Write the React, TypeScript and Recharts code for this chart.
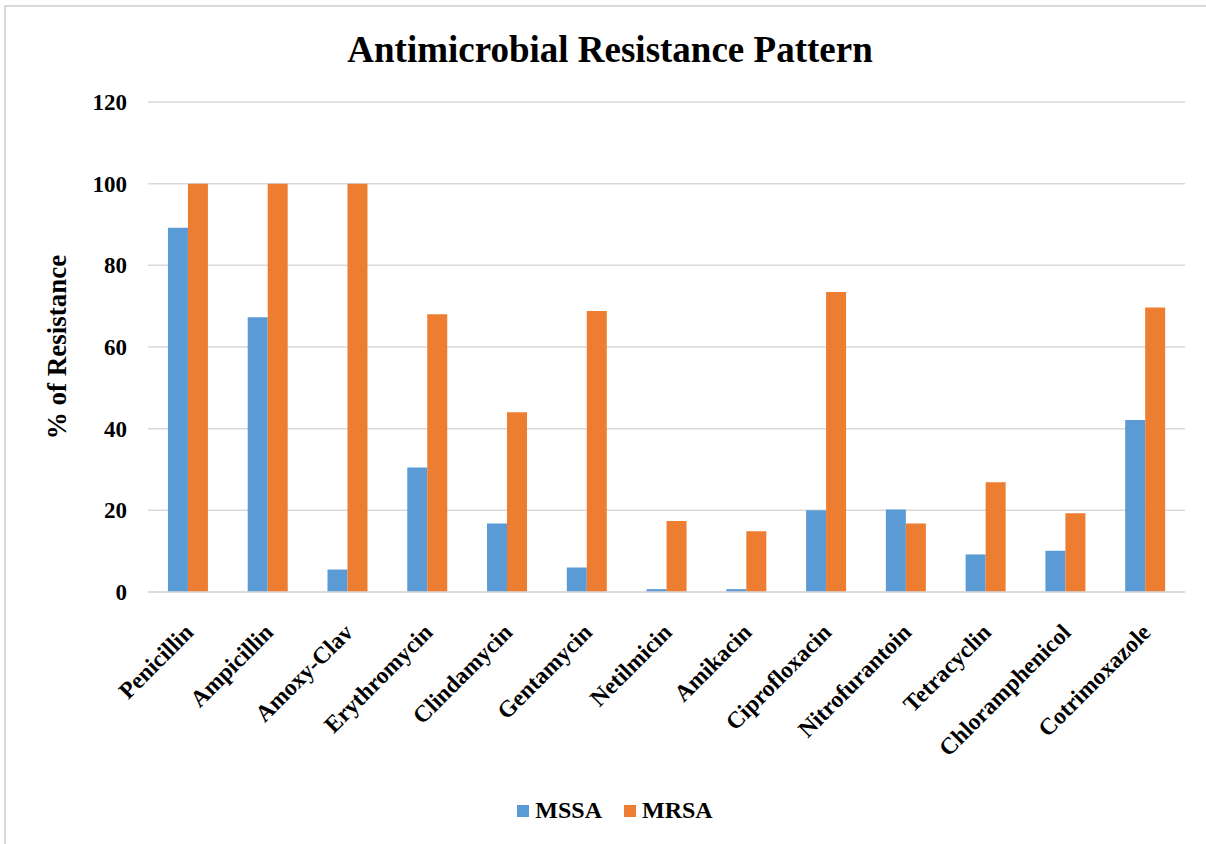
import { BarChart, Bar, XAxis, YAxis, CartesianGrid, Legend } from "recharts";

const drugs = [
  "Penicillin", "Ampicillin", "Amoxy-Clav", "Erythromycin", "Clindamycin", "Gentamycin",
  "Netilmicin", "Amikacin", "Ciprofloxacin", "Nitrofurantoin", "Tetracyclin", "Chloramphenicol",
  "Cotrimoxazole",
];
const mssa = [89.2, 67.3, 5.5, 30.5, 16.8, 6, 0.7, 0.7, 20, 20.2, 9.2, 10.1, 42.1];
const mrsa = [100, 100, 100, 68, 44, 68.8, 17.4, 14.9, 73.5, 16.8, 26.9, 19.3, 69.7];
const yTicks = [0, 20, 40, 60, 80, 100, 120];

const data = drugs.map((name, i) => ({ name, MSSA: mssa[i], MRSA: mrsa[i] }));

const BLUE = "#5b9bd5";
const ORANGE = "#ed7d31";
const FONT = "'Liberation Serif', 'Times New Roman', serif";

const XTick = (props: any) => {
  const { x, y, payload } = props;
  return (
    <g transform={`translate(${x + 1},${y + 28})`}>
      <text
        x={0}
        y={0}
        dy="0.35em"
        textAnchor="end"
        transform="rotate(-45)"
        fill="#000"
        style={{ fontFamily: FONT, fontWeight: 700, fontSize: 23.5 }}
      >
        {payload.value}
      </text>
    </g>
  );
};

const LegendContent = () => (
  <div style={{ display: "flex", justifyContent: "center", gap: 22, fontFamily: FONT, fontWeight: 700, fontSize: 24 }}>
    {[["MSSA", BLUE], ["MRSA", ORANGE]].map(([n, c]) => (
      <div key={n} style={{ display: "flex", alignItems: "center", gap: 6 }}>
        <div style={{ width: 12, height: 12, backgroundColor: c }} />
        {n}
      </div>
    ))}
  </div>
);

export default function App() {
  return (
    <div style={{ position: "absolute", left: 0, top: 0, width: 1206, height: 844, background: "#fff" }}>
      <div style={{ position: "absolute", left: 4, top: 5, width: 1202, height: 839, borderLeft: "2px solid #d9d9d9", borderTop: "2px solid #d9d9d9" }} />
      <div style={{ position: "absolute", left: 0, top: 31, width: 1220, textAlign: "center", fontFamily: FONT, fontWeight: 700, fontSize: 37, lineHeight: 1 }}>
        Antimicrobial Resistance Pattern
      </div>
      <BarChart
        width={1206}
        height={844}
        data={data}
        margin={{ top: 102, right: 21, bottom: 52, left: 0 }}
        barCategoryGap="25%"
        barGap={0}
      >
        <CartesianGrid vertical={false} stroke="#d9d9d9" strokeWidth={1.5} />
        <XAxis
          dataKey="name"
          interval={0}
          height={200}
          tickLine={false}
          axisLine={{ stroke: "#d9d9d9", strokeWidth: 1.5 }}
          tick={<XTick />}
        />
        <YAxis
          width={148}
          domain={[0, 120]}
          ticks={yTicks}
          tickLine={false}
          axisLine={false}
          tickMargin={15}
          tick={{ fill: "#000", fontFamily: FONT, fontWeight: 700, fontSize: 23 }}
          label={{
            value: "% of Resistance",
            angle: -90,
            position: "center",
            dx: -18,
            style: { fill: "#000", fontFamily: FONT, fontWeight: 700, fontSize: 27, textAnchor: "middle" },
          }}
        />
        <Legend verticalAlign="middle" wrapperStyle={{ top: 797, left: 0, width: 1230 }} content={<LegendContent />} />
        <Bar dataKey="MSSA" fill={BLUE} isAnimationActive={false} />
        <Bar dataKey="MRSA" fill={ORANGE} isAnimationActive={false} />
      </BarChart>
    </div>
  );
}
